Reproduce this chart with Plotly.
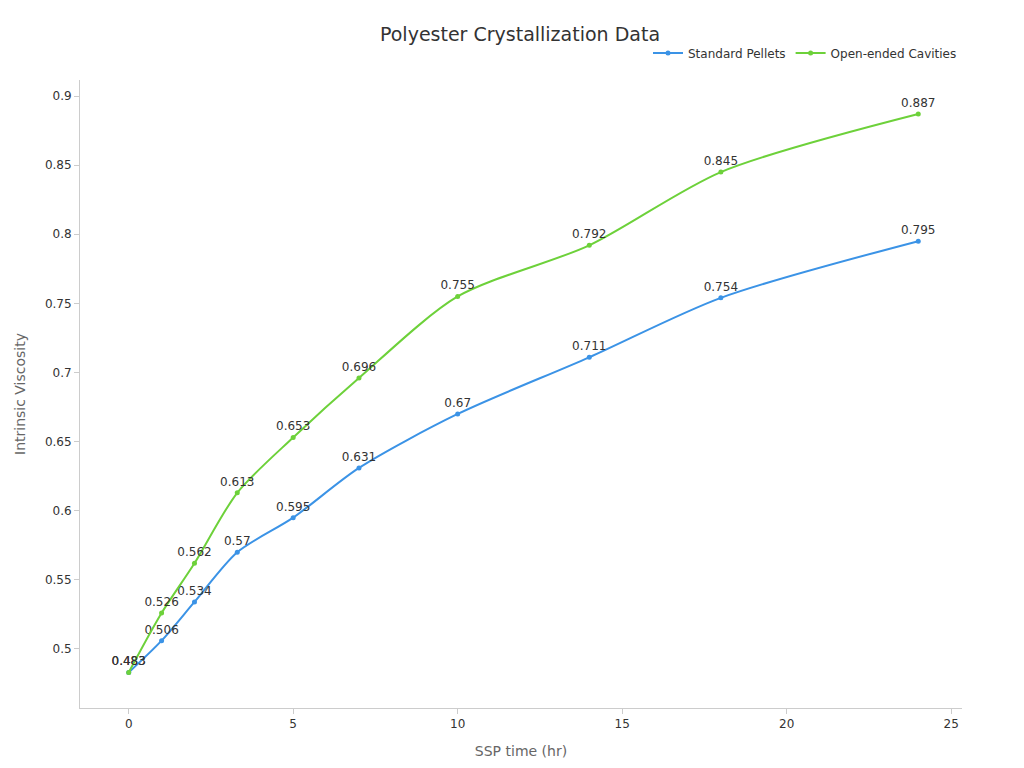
import plotly.graph_objects as go

ssp_time = [0, 1, 2, 3.3, 5, 7, 10, 14, 18, 24]
standard_pellets = [0.483, 0.506, 0.534, 0.57, 0.595, 0.631, 0.67, 0.711, 0.754, 0.795]
open_ended = [0.483, 0.526, 0.562, 0.613, 0.653, 0.696, 0.755, 0.792, 0.845, 0.887]

fig = go.Figure()
for name, ys, color in [("Standard Pellets", standard_pellets, "#3b93e6"),
                        ("Open-ended Cavities", open_ended, "#6dd13a")]:
    fig.add_trace(go.Scatter(
        x=ssp_time, y=ys, name=name, mode="lines+markers+text",
        line=dict(color=color, width=2, shape="spline", smoothing=0.8),
        marker=dict(size=5, color=color),
        text=[str(v) for v in ys], textposition="top center",
        textfont=dict(size=12, color="#333"),
    ))

fig.update_layout(
    width=1024, height=768,
    margin=dict(l=64, r=70, t=72, b=68),
    paper_bgcolor="white", plot_bgcolor="white",
    font=dict(family="DejaVu Sans", size=12, color="#333"),
    title=dict(text="Polyester Crystallization Data", x=0.5, xanchor="center", y=0.975,
               font=dict(size=19, color="#333")),
    legend=dict(orientation="h", x=1, xanchor="right", y=1.02, yanchor="bottom",
                font=dict(size=12)),
    xaxis=dict(title=dict(text="SSP time (hr)", font=dict(size=14, color="#666")),
               range=[-1.48, 25.33], showgrid=False, zeroline=False,
               showline=True, linecolor="#ccc", ticks="outside", tickcolor="#ccc",
               dtick=5),
    yaxis=dict(title=dict(text="Intrinsic Viscosity", font=dict(size=14, color="#666")),
               range=[0.4573, 0.9116], showgrid=False, zeroline=False,
               showline=True, linecolor="#ccc", ticks="outside", tickcolor="#ccc",
               dtick=0.05),
)
fig.write_html("out.html")
